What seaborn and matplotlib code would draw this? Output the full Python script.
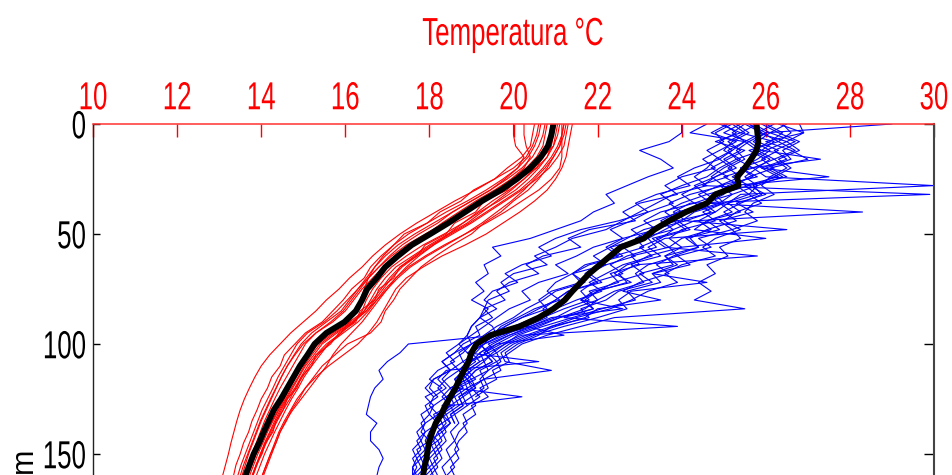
import matplotlib
matplotlib.use("Agg")
import matplotlib.pyplot as plt
import pandas as pd
import seaborn as sns
from matplotlib import font_manager as fm
from matplotlib.patheffects import AbstractPathEffect
from matplotlib.transforms import Affine2D

# ------------------------------------------------------------------ data
red_depth = list(range(0, 175, 5))      # 0 .. 170 m
blue_depth = list(range(0, 176, 4))     # 0 .. 172 m

red_1 = [21.30, 21.25, 21.20, 21.05, 20.85, 20.55, 20.20, 19.80, 19.40, 19.00,
         18.55, 18.10, 17.70, 17.35, 17.10, 16.90, 16.70, 16.50, 16.20, 15.75,
         15.40, 15.20, 15.02, 14.88, 14.72, 14.58, 14.42, 14.28, 14.15, 14.04,
         13.92, 13.82, 13.72, 13.62, 13.52]
red_2 = [20.00, 20.00, 20.05, 20.25, 20.10, 19.80, 19.45, 19.00, 18.55, 18.20,
         17.75, 17.35, 17.05, 16.80, 16.55, 16.30, 16.05, 15.80, 15.50, 15.10,
         14.85, 14.70, 14.55, 14.40, 14.28, 14.15, 14.02, 13.92, 13.82, 13.72,
         13.62, 13.52, 13.44, 13.36, 13.28]
red_3 = [21.10, 21.05, 20.95, 20.80, 20.55, 20.25, 19.95, 19.60, 19.25, 18.90,
         18.45, 18.00, 17.60, 17.20, 16.95, 16.75, 16.60, 16.45, 16.20, 15.80,
         15.45, 15.25, 15.05, 14.90, 14.75, 14.60, 14.45, 14.32, 14.20, 14.08,
         13.98, 13.88, 13.78, 13.68, 13.58]
red_4 = [21.40, 21.35, 21.30, 21.25, 21.15, 21.00, 20.80, 20.50, 20.15, 19.75,
         19.35, 18.85, 18.30, 17.85, 17.45, 17.20, 17.05, 16.90, 16.75, 16.55,
         16.30, 15.95, 15.60, 15.30, 15.05, 14.85, 14.70, 14.55, 14.42, 14.32,
         14.22, 14.12, 14.02, 13.92, 13.84]
red_5 = [20.80, 20.75, 20.70, 20.55, 20.30, 19.95, 19.55, 19.10, 18.70, 18.30,
         17.95, 17.55, 17.20, 16.90, 16.65, 16.40, 16.20, 16.00, 15.70, 15.30,
         15.05, 14.90, 14.75, 14.60, 14.45, 14.32, 14.20, 14.08, 13.98, 13.88,
         13.78, 13.70, 13.60, 13.52, 13.44]
red_6 = [21.00, 20.95, 20.90, 20.80, 20.60, 20.35, 20.05, 19.65, 19.20, 18.80,
         18.35, 17.85, 17.45, 17.10, 16.85, 16.65, 16.50, 16.40, 16.20, 15.90,
         15.55, 15.30, 15.10, 14.95, 14.80, 14.62, 14.48, 14.35, 14.22, 14.10,
         13.98, 13.88, 13.78, 13.68, 13.60]
red_7 = [20.60, 20.55, 20.45, 20.30, 20.00, 19.55, 19.10, 18.60, 18.15, 17.70,
         17.30, 16.95, 16.65, 16.40, 16.10, 15.85, 15.55, 15.30, 15.00, 14.70,
         14.45, 14.20, 14.00, 13.85, 13.72, 13.60, 13.50, 13.42, 13.35, 13.28,
         13.22, 13.15, 13.08, 13.02, 12.96]
red_8 = [21.20, 21.15, 21.05, 20.90, 20.70, 20.45, 20.15, 19.75, 19.35, 18.95,
         18.50, 18.05, 17.65, 17.30, 17.05, 16.85, 16.65, 16.45, 16.10, 15.65,
         15.30, 15.10, 14.95, 14.82, 14.68, 14.55, 14.40, 14.26, 14.12, 14.00,
         13.88, 13.78, 13.68, 13.58, 13.50]
red_9 = [20.90, 20.85, 20.80, 20.70, 20.50, 20.25, 19.90, 19.50, 19.15, 18.80,
         18.45, 18.10, 17.75, 17.45, 17.20, 17.00, 16.80, 16.60, 16.40, 16.15,
         15.90, 15.70, 15.55, 15.35, 15.15, 14.95, 14.75, 14.58, 14.45, 14.35,
         14.25, 14.15, 14.05, 13.95, 13.87]
red_10 = [20.25, 20.25, 20.30, 20.40, 20.25, 19.95, 19.60, 19.20, 18.80, 18.35,
          17.90, 17.45, 17.10, 16.80, 16.55, 16.35, 16.15, 15.95, 15.65, 15.30,
          15.00, 14.80, 14.62, 14.48, 14.35, 14.22, 14.10, 13.98, 13.88, 13.78,
          13.68, 13.58, 13.50, 13.42, 13.35]
red_11 = [21.15, 21.15, 21.15, 21.15, 21.10, 20.90, 20.60, 20.20, 19.80, 19.35,
          18.85, 18.35, 17.90, 17.50, 17.20, 16.95, 16.75, 16.55, 16.30, 15.95,
          15.60, 15.35, 15.15, 14.98, 14.82, 14.68, 14.52, 14.38, 14.25, 14.12,
          14.00, 13.90, 13.80, 13.70, 13.62]
red_12 = [20.75, 20.70, 20.60, 20.45, 20.20, 19.85, 19.45, 19.00, 18.55, 18.10,
          17.65, 17.25, 16.95, 16.70, 16.50, 16.30, 16.10, 15.90, 15.55, 15.20,
          14.95, 14.78, 14.62, 14.48, 14.36, 14.24, 14.12, 14.00, 13.90, 13.80,
          13.70, 13.62, 13.54, 13.46, 13.38]
red_13 = [20.65, 20.60, 20.50, 20.35, 20.10, 19.75, 19.35, 18.90, 18.40, 17.95,
          17.50, 17.15, 16.90, 16.70, 16.55, 16.45, 16.35, 16.25, 16.10, 15.90,
          15.60, 15.40, 15.20, 15.02, 14.88, 14.72, 14.58, 14.45, 14.32, 14.20,
          14.08, 13.98, 13.88, 13.78, 13.70]
red_14 = [21.25, 21.20, 21.10, 20.95, 20.75, 20.50, 20.25, 19.95, 19.60, 19.25,
          18.85, 18.40, 17.95, 17.55, 17.25, 17.00, 16.75, 16.50, 16.15, 15.70,
          15.35, 15.15, 14.98, 14.82, 14.66, 14.50, 14.36, 14.22, 14.10, 13.98,
          13.86, 13.76, 13.66, 13.56, 13.48]
red_15 = [21.05, 21.00, 20.95, 20.70, 20.55, 20.10, 19.85, 19.30, 19.10, 18.60,
          18.40, 17.90, 17.70, 17.30, 17.15, 16.80, 16.70, 16.35, 16.25, 15.85,
          15.65, 15.30, 15.20, 14.95, 14.85, 14.62, 14.52, 14.35, 14.28, 14.10,
          14.02, 13.88, 13.80, 13.70, 13.62]
red_16 = [20.50, 20.45, 20.40, 20.20, 19.85, 19.55, 19.05, 18.75, 18.25, 17.95,
          17.40, 17.15, 16.85, 16.60, 16.45, 16.15, 15.95, 15.70, 15.45, 15.05,
          14.80, 14.55, 14.45, 14.25, 14.15, 14.00, 13.90, 13.78, 13.70, 13.58,
          13.50, 13.40, 13.34, 13.26, 13.20]
red_17 = [21.20, 21.15, 21.10, 20.95, 20.80, 20.60, 20.35, 20.00, 19.70, 19.30,
          19.00, 18.55, 18.15, 17.80, 17.55, 17.30, 17.15, 16.95, 16.85, 16.60,
          16.05, 15.75, 15.45, 15.25, 15.05, 14.90, 14.72, 14.60, 14.45, 14.35,
          14.22, 14.12, 14.02, 13.94, 13.86]

red_mean = [20.95, 20.90, 20.82, 20.65, 20.40, 20.08, 19.70, 19.25, 18.85, 18.45,
            18.02, 17.58, 17.25, 16.95, 16.75, 16.52, 16.40, 16.25, 15.98, 15.55,
            15.27, 15.10, 14.92, 14.77, 14.62, 14.47, 14.30, 14.18, 14.06, 13.95,
            13.82, 13.72, 13.62, 13.52, 13.43]

blue_1 = [26.4, 26.6, 26.3, 26.7, 26.2, 26.5, 26.1, 25.9, 26.2, 25.7,
          25.5, 25.8, 25.2, 25.4, 24.9, 25.1, 24.6, 24.8, 24.4, 24.7,
          24.3, 25.5, 22.4, 21.6, 20.8, 20.2, 19.9, 19.6, 19.7, 19.3,
          19.4, 19.1]
blue_2 = [25.9, 26.3, 26.8, 26.4, 26.6, 26.0, 26.4, 25.8, 25.6, 25.9,
          25.3, 25.0, 25.4, 24.8, 24.5, 24.8, 24.0, 23.6, 23.9, 23.2,
          22.8, 22.3, 21.5, 20.9, 20.3, 19.8, 19.5, 19.3, 19.4, 19.0,
          19.1, 18.8, 18.9, 18.6, 18.7, 18.5, 18.6, 18.4, 18.5, 18.3,
          18.4, 18.3, 18.2, 18.3]
blue_3 = [29.0, 26.0, 25.7, 26.1, 25.8, 25.4, 25.7, 25.1, 24.8, 25.0,
          24.3, 24.0, 23.6, 23.2, 23.4, 22.7, 22.3, 22.6, 21.9, 21.6,
          21.8, 21.2, 20.7, 20.2, 19.8, 19.3, 19.1, 18.8, 19.0, 18.7,
          18.8, 18.5, 18.6, 18.3, 18.4, 18.2, 18.1, 18.2, 18.0, 18.1,
          17.9, 18.0, 17.9, 17.9]
blue_4 = [25.6, 25.9, 25.5, 25.8, 26.2, 25.7, 26.0, 30.0, 25.4, 25.1,
          24.8, 24.4, 24.7, 24.0, 23.7, 23.9, 23.2, 22.9, 23.1, 22.4,
          22.0, 21.7, 21.1, 20.6, 20.0, 19.6, 19.3, 19.5, 19.1, 18.9,
          19.0, 18.7, 18.8, 18.5, 18.6]
blue_5 = [25.2, 25.5, 25.1, 25.4, 25.0, 25.3, 24.8, 24.5, 29.9, 24.2,
          23.8, 24.1, 23.3, 22.9, 23.1, 22.4, 22.0, 21.7, 22.0, 21.3,
          21.0, 20.6, 20.2, 19.8, 19.4, 19.0, 18.8, 18.5, 18.7, 18.4,
          18.2, 18.4, 18.1, 18.0, 18.2, 17.9, 17.8, 17.9, 17.7, 17.8,
          17.6, 17.7, 17.6, 17.6]
blue_6 = [26.2, 25.8, 26.5, 26.0, 25.6, 25.9, 27.5, 25.2, 25.0, 24.6,
          28.3, 24.3, 23.8, 23.5, 23.0, 23.3, 22.6, 22.2, 21.8, 22.1,
          21.5, 21.0, 20.5, 20.0, 19.6, 19.2, 19.4, 19.0, 18.7, 18.9,
          18.5, 18.6, 18.3, 18.4, 18.1, 18.3, 18.0, 18.1, 17.9, 18.0,
          17.8, 17.9, 17.8, 17.8]
blue_7 = [25.0, 25.3, 24.9, 25.2, 24.8, 24.6, 24.3, 24.6, 23.8, 23.4,
          23.0, 22.6, 22.2, 21.4, 21.0, 20.5, 20.8, 20.0, 19.7, 19.9,
          19.4, 19.3, 19.5, 19.1, 19.2, 18.8, 18.6, 18.3, 18.5, 18.1,
          18.0, 18.2, 17.9, 18.0, 17.8, 17.9, 17.7, 17.8, 17.6, 17.7,
          17.6, 17.55, 17.6, 17.5]
blue_8 = [26.0, 26.4, 26.1, 25.7, 26.1, 25.8, 25.5, 25.8, 25.2, 24.9,
          25.2, 24.6, 24.3, 26.0, 24.0, 23.6, 23.9, 23.3, 24.6, 22.8,
          22.5, 22.7, 22.0, 21.2, 20.5, 20.0, 19.7, 19.8, 20.9, 19.3,
          19.0, 19.2, 18.9]
blue_9 = [25.4, 25.0, 25.6, 25.3, 25.5, 25.1, 25.4, 24.9, 24.4, 24.7,
          23.9, 23.5, 23.8, 23.0, 22.6, 22.9, 22.2, 21.8, 22.1, 21.3,
          21.0, 20.7, 20.8, 20.3, 21.2, 19.6, 19.2, 19.0, 18.8, 19.0,
          18.6, 20.2, 18.5, 18.3, 18.5, 18.2, 18.3, 18.1, 18.2, 18.0,
          18.1, 17.9, 18.0, 17.9]
blue_10 = [26.8, 26.9, 26.5, 26.8, 26.3, 26.6, 26.2, 25.7, 25.9, 25.4,
           25.0, 25.3, 24.6, 24.2, 24.4, 23.8, 23.4, 23.7, 23.0, 22.6,
           23.5, 22.0, 21.7, 21.0, 20.4, 19.9, 19.6, 19.7, 19.4, 19.2,
           19.3, 19.0, 19.1, 18.8, 18.9, 18.7, 18.6, 18.7, 18.5, 18.6,
           18.4, 18.5, 18.4, 18.4]
blue_11 = [25.5, 25.2, 25.5, 25.1, 25.3, 24.9, 24.6, 24.0, 23.5, 23.8,
           23.2, 22.8, 22.3, 22.6, 21.9, 21.5, 21.0, 21.3, 20.6, 20.2,
           20.4, 19.9, 19.6, 19.3, 19.0, 18.7, 18.9, 20.6, 18.4, 18.2,
           18.4, 18.1, 18.0, 18.2, 17.9, 17.8, 18.0, 17.7, 17.8, 17.6,
           17.7, 17.6, 17.5, 17.6]
blue_12 = [24.6, 24.2, 25.5, 25.2, 24.9, 25.2, 24.8, 24.3, 24.6, 24.0,
           23.6, 23.9, 23.1, 22.7, 22.3, 22.6, 21.8, 21.4, 21.7, 21.0,
           20.7, 20.3, 20.0, 19.6, 19.3, 19.0, 18.7, 18.8, 18.5, 18.3,
           18.5]
blue_13 = [25.7, 26.1, 25.8, 26.3, 25.9, 26.2, 25.6, 25.3, 25.6, 25.0,
           24.5, 24.8, 24.0, 23.7, 24.0, 23.2, 22.8, 23.1, 22.4, 22.0,
           21.6, 21.9, 21.1, 20.5, 19.9, 19.5, 19.2, 19.3, 19.0, 18.8,
           18.9, 18.6, 18.7, 18.4, 18.5, 18.3, 18.4, 18.2, 18.3, 18.1,
           18.2, 18.1, 18.0, 18.1]
blue_14 = [24.0, 24.0, 23.7, 23.0, 23.5, 23.8, 23.2, 22.7, 22.2, 22.4,
           21.9, 21.6, 21.0, 20.4, 19.5, 19.7, 19.3, 19.4, 19.1, 19.3,
           19.0, 19.4, 19.2, 19.5, 19.6, 17.5, 17.3, 17.0, 16.8, 16.9,
           16.7, 16.6, 16.55, 16.5, 16.75, 16.6, 16.6, 16.8, 16.9, 16.8,
           16.75, 16.8, 16.7, 16.8]
blue_15 = [25.3, 25.6, 25.2, 25.0, 25.4, 25.0, 24.7, 25.0, 24.2, 23.7,
           24.0, 23.3, 22.8, 23.1, 22.3, 21.9, 22.2, 21.4, 21.0, 20.8,
           21.1, 20.5, 20.1, 19.7, 19.5, 19.3, 18.9, 19.1, 18.8, 18.6,
           18.7, 18.4, 18.5, 18.2, 18.3, 18.0, 18.1, 17.9, 18.0, 17.8,
           17.9, 17.8, 17.7, 17.8]
blue_16 = [25.1, 24.7, 25.3, 24.9, 24.5, 24.8, 24.0, 23.6, 23.9, 23.0,
           22.6, 22.9, 21.8, 21.3, 21.6, 20.7, 20.3, 20.6, 19.9, 19.6,
           19.8, 19.3, 19.2, 19.0, 18.9, 18.7, 18.4, 18.6, 18.2, 18.0,
           18.3, 17.9, 18.1, 17.8, 17.9, 17.7, 17.8, 17.6, 17.7, 17.6,
           17.6, 17.5, 17.6, 17.5]
blue_17 = [26.3, 26.9, 26.0, 26.6, 27.0, 26.1, 26.5, 25.6, 26.0, 25.3,
           25.7, 24.9, 25.2, 24.4, 24.7, 23.9, 24.2, 23.3, 23.5, 22.7,
           22.9, 22.1, 21.4, 20.7, 20.1, 19.8, 19.4, 19.6, 19.2, 19.3,
           18.9, 19.0, 18.7]
blue_18 = [25.5, 25.9, 26.3, 25.6, 26.0, 25.4, 25.8, 24.9, 25.2, 24.5,
           24.8, 23.9, 24.2, 23.4, 23.7, 22.8, 23.0, 22.3, 22.5, 21.8,
           22.0, 21.4, 21.0, 20.4, 19.9, 19.4, 19.6, 19.2, 18.9, 19.1,
           18.7, 18.8, 18.5, 18.6, 18.3, 18.4, 18.2, 18.3, 18.1, 18.2,
           18.0, 18.1, 18.0, 18.0]
blue_19 = [25.8, 25.4, 26.2, 25.9, 27.3, 25.6, 25.2, 25.6, 24.9, 24.3,
           24.7, 24.1, 26.5, 23.6, 23.2, 23.5, 22.7, 22.4, 22.8, 21.9,
           21.6, 22.6, 20.9, 20.4, 19.7, 19.3, 19.0, 19.2, 18.9, 18.6,
           18.8, 18.4, 18.5, 18.2, 18.3, 18.0, 18.2, 17.9, 18.0, 17.8,
           17.9, 17.8, 17.7, 17.8]
blue_20 = [25.2, 24.8, 25.0, 24.6, 24.9, 24.3, 23.9, 24.2, 23.4, 22.9,
           23.2, 22.5, 21.6, 21.0, 20.6, 20.9, 20.2, 19.8, 20.1, 19.5,
           19.3, 19.6, 19.2, 19.0, 18.9, 19.0, 18.6, 18.3, 18.5, 18.1,
           17.9, 18.1]
blue_21 = [25.6, 26.0, 25.6, 25.9, 25.3, 25.7, 25.0, 25.4, 24.6, 24.9,
           24.2, 23.8, 24.1, 23.3, 23.6, 25.8, 22.9, 22.5, 22.7, 22.0,
           21.7, 21.9, 21.2, 23.9, 20.2, 19.7, 19.3, 19.5, 19.1, 18.9,
           19.1, 18.7, 18.8, 18.5, 18.6]
blue_22 = [26.5, 26.1, 26.7, 26.2, 26.5, 25.9, 26.3, 25.5, 25.8, 25.1,
           25.4, 24.6, 24.9, 24.1, 24.4, 23.6, 23.8, 23.0, 23.3, 22.5,
           22.2, 21.6, 21.8, 20.9, 20.6, 20.1, 19.8, 19.9, 19.5, 19.6,
           19.2, 19.4, 19.0, 19.1, 18.8, 18.9, 18.7, 18.6, 18.7, 18.5,
           18.6, 18.5, 18.4, 18.5]
blue_23 = [24.9, 25.4, 24.8, 25.5, 25.1, 24.7, 25.1, 24.4, 24.0, 24.3,
           23.5, 23.1, 23.4, 22.6, 22.2, 22.5, 21.7, 21.4, 21.6, 20.9,
           20.6, 20.8, 20.2, 19.8, 19.6, 19.2, 19.4, 18.9, 18.7, 18.9,
           18.5, 18.3, 18.5, 18.1, 18.2, 18.0, 17.9, 18.0, 17.8, 17.9,
           17.7, 17.8, 17.7, 17.7]

blue_mean = [25.78, 25.80, 25.82, 25.78, 25.65, 25.50, 25.32, 25.35, 24.80, 24.60,
             24.10, 23.70, 23.35, 23.10, 22.55, 22.30, 22.05, 21.80, 21.60, 21.40,
             21.22, 20.95, 20.60, 20.15, 19.45, 19.12, 19.00, 18.93, 18.82, 18.72,
             18.62, 18.50, 18.38, 18.28, 18.15, 18.07, 18.00, 17.96, 17.93, 17.88,
             17.85, 17.82, 17.80, 17.78]

temp_ticks = [10, 12, 14, 16, 18, 20, 22, 24, 26, 28, 30]
depth_ticks = [0, 50, 100, 150]
title_text = "Temperatura °C"
ylabel_text = "m"

red_profiles = [red_1, red_2, red_3, red_4, red_5, red_6, red_7, red_8, red_9,
                red_10, red_11, red_12, red_13, red_14, red_15, red_16, red_17]
blue_profiles = [blue_1, blue_2, blue_3, blue_4, blue_5, blue_6, blue_7, blue_8,
                 blue_9, blue_10, blue_11, blue_12, blue_13, blue_14, blue_15,
                 blue_16, blue_17, blue_18, blue_19, blue_20, blue_21, blue_22,
                 blue_23]


def long_table(profiles, depth):
    rows = []
    for pid, vals in enumerate(profiles):
        n = min(len(vals), len(depth))
        for d, t in zip(depth[:n], vals[:n]):
            rows.append({"profile": pid, "depth": d, "temp": t})
    return pd.DataFrame(rows)


red_df = long_table(red_profiles, red_depth)
blue_df = long_table(blue_profiles, blue_depth)

# ------------------------------------------------------------------ style
sns.set_style("white")


def has_font(name):
    try:
        fm.findfont(fm.FontProperties(family=name), fallback_to_default=False)
        return True
    except Exception:
        return False


if has_font("Liberation Sans Narrow"):
    FONT = "Liberation Sans Narrow"
    FS = 22.7
    FS_M = 27.5
else:
    FONT = "Liberation Sans"
    FS = 22.7 * 0.82
    FS_M = 22.0
plt.rcParams["font.family"] = [FONT, "DejaVu Sans"]
DIGIT_H = 0.716 * FS * 100 / 72.0           # digit height in px
K = 28.0 / DIGIT_H                          # vertical stretch to match


class Stretch(AbstractPathEffect):
    """Draw text glyphs stretched in the text's own frame."""

    def __init__(self, sx=1.0, sy=1.0, cy=0.0):
        super().__init__()
        self.sx, self.sy, self.cy = sx, sy, cy

    def draw_path(self, renderer, gc, tpath, affine, rgbFace=None):
        t = (Affine2D().translate(0, -self.cy)
             .scale(self.sx, self.sy).translate(0, self.cy))
        renderer.draw_path(gc, tpath, t + affine, rgbFace)


# ------------------------------------------------------------------ figure
fig = plt.figure(figsize=(9.52, 4.75), dpi=100)
fig.patch.set_facecolor("white")
# axes: x 93..934 px, depth 0 at y=124 px, 2.2 px per metre (extends below)
ax = fig.add_axes([93 / 952, (475 - 564) / 475, 841 / 952, 440 / 475])

sns.lineplot(data=red_df, x="temp", y="depth", units="profile", estimator=None,
             sort=False, color="#ff0000", linewidth=0.8, ax=ax, legend=False)
sns.lineplot(data=blue_df, x="temp", y="depth", units="profile", estimator=None,
             sort=False, color="#0000ff", linewidth=0.8, ax=ax, legend=False)
sns.lineplot(x=red_mean, y=red_depth, estimator=None, sort=False, color="black",
             linewidth=4.3, ax=ax, legend=False)
sns.lineplot(x=blue_mean, y=blue_depth, estimator=None, sort=False, color="black",
             linewidth=4.3, ax=ax, legend=False)

ax.set_xlim(10, 30)
ax.set_ylim(200, 0)
ax.set_xlabel("")
ax.set_ylabel("")
ax.set_xticks(temp_ticks)
ax.set_xticklabels([str(v) for v in temp_ticks])
ax.set_yticks(depth_ticks)
ax.set_yticklabels([str(v) for v in depth_ticks])

ax.xaxis.set_ticks_position("top")
ax.tick_params(axis="x", which="major", top=True, bottom=False, labeltop=True,
               labelbottom=False, direction="in", length=9, width=1.0,
               colors="#ff0000", labelsize=FS, pad=7.0)
ax.tick_params(axis="y", which="major", left=True, right=True, direction="in",
               length=5, width=1.0, colors="black", labelsize=FS, pad=5.0)

for side in ("top", "left", "right", "bottom"):
    ax.spines[side].set_visible(True)
ax.spines["top"].set_color("#ff3030")
ax.spines["top"].set_linewidth(1.1)
ax.spines["left"].set_color("#222222")
ax.spines["left"].set_linewidth(1.0)
ax.spines["right"].set_color("#444444")
ax.spines["right"].set_linewidth(1.5)
ax.spines["bottom"].set_visible(False)
ax.grid(False)

fig.text(513 / 952, (475 - 45) / 475, title_text, color="#ff0000",
         fontsize=FS, ha="center", va="baseline",
         path_effects=[Stretch(1.0, K, 0.0)])

fig.text(32 / 952, (475 - 473) / 475, ylabel_text, color="black",
         fontsize=FS_M, ha="left", va="baseline", rotation=90,
         rotation_mode="anchor")

fig.canvas.draw()
for t in ax.yaxis.get_major_ticks():
    t.tick2line.set_color("#444444")
    t.tick2line.set_markersize(7.5)
for lab in ax.get_xticklabels():
    lab.set_path_effects([Stretch(1.0, K, 0.0)])
for lab in ax.get_yticklabels():
    lab.set_path_effects([Stretch(1.0, K, 35.8)])

fig.savefig("out.png", dpi=100, facecolor="white")
